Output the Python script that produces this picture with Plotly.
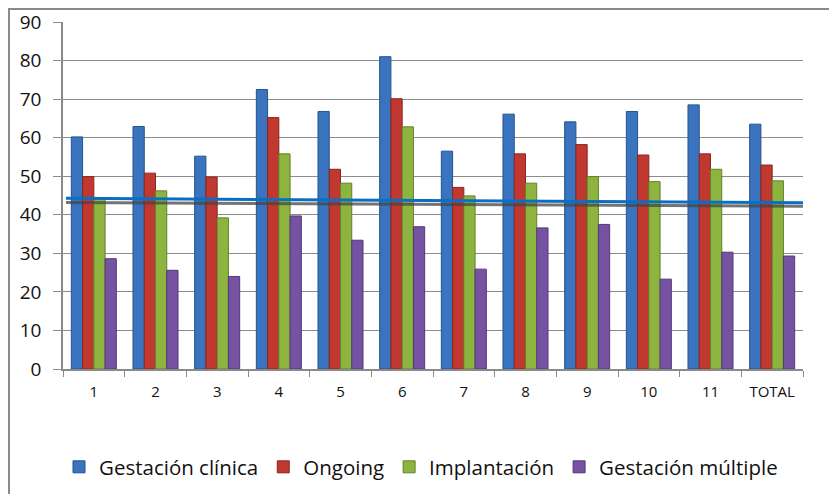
import plotly.graph_objects as go

categories = ["1", "2", "3", "4", "5", "6", "7", "8", "9", "10", "11", "TOTAL"]
gestacion_clinica = [60.2, 62.9, 55.2, 72.5, 66.8, 81.0, 56.5, 66.1, 64.1, 66.8, 68.5, 63.5]
ongoing = [49.9, 50.8, 49.8, 65.2, 51.8, 70.1, 47.1, 55.8, 58.2, 55.5, 55.8, 52.9]
implantacion = [44.1, 46.2, 39.2, 55.8, 48.2, 62.8, 44.9, 48.2, 49.9, 48.6, 51.8, 48.8]
gestacion_multiple = [28.6, 25.6, 24.0, 39.7, 33.4, 36.9, 25.9, 36.6, 37.5, 23.3, 30.3, 29.3]

trend_x = [-0.45, 11.5]
trend_blue = [44.3, 43.1]
trend_gray = [43.2, 42.2]

series_names = ["Gestación clínica", "Ongoing", "Implantación", "Gestación múltiple"]
series_values = [gestacion_clinica, ongoing, implantacion, gestacion_multiple]
fill_colors = ["#3A74BE", "#C0382F", "#8CB43E", "#7652A2"]
edge_colors = ["#24528C", "#8C2420", "#62822A", "#533878"]

FONT = "Open Sans, Noto Sans, sans-serif"

fig = go.Figure()
for name, vals, fc, ec in zip(series_names, series_values, fill_colors, edge_colors):
    fig.add_trace(go.Bar(
        x=categories, y=vals, name=name,
        marker=dict(color=fc, line=dict(color=ec, width=1)),
    ))

fig.add_trace(go.Scatter(
    x=trend_x, y=trend_gray, xaxis="x2", mode="lines",
    line=dict(color="rgba(70,70,70,0.75)", width=3), showlegend=False, hoverinfo="skip",
))
fig.add_trace(go.Scatter(
    x=trend_x, y=trend_blue, xaxis="x2", mode="lines",
    line=dict(color="#0A6FC2", width=3), showlegend=False, hoverinfo="skip",
))

# The page has an 8px body margin: figure origin is at page (8, 8).
OFF = 8
W, H = 837 - OFF, 494 - OFF
# plot area in page pixels: x 63..803, y 22..369
L, R, T, B = 63 - OFF, 837 - 803, 22 - OFF, 494 - 369
pw = W - L - R
ph = H - T - B

def px_x(p):
    return (p - OFF - L) / pw

def px_y(p):
    return 1 - (p - OFF - T) / ph

fig.add_shape(type="rect", xref="paper", yref="paper",
              x0=px_x(OFF + 1), x1=px_x(845), y0=px_y(505), y1=px_y(OFF + 1),
              line=dict(color="#8A8A8A", width=2), fillcolor="rgba(0,0,0,0)", layer="below")

fig.update_layout(
    width=W, height=H,
    margin=dict(l=L, r=R, t=T, b=B, autoexpand=False),
    paper_bgcolor="white", plot_bgcolor="white",
    barmode="group", bargap=0.27, bargroupgap=0,
    font=dict(family=FONT, color="#111111"),
    showlegend=True,
    legend=dict(orientation="h", x=px_x(421), xanchor="center", y=px_y(467), yanchor="middle",
                font=dict(size=20.5, family=FONT, color="#111111"),
                itemwidth=30, traceorder="normal", tracegroupgap=0),
    xaxis=dict(
        type="category", tickson="boundaries", ticks="outside", ticklen=6,
        tickcolor="#8A8A8A", showline=True, linecolor="#8A8A8A", linewidth=1.5,
        showgrid=False, tickfont=dict(size=15, family=FONT, color="#111111"),
        ticklabelstandoff=8, automargin=False,
    ),
    xaxis2=dict(overlaying="x", range=[-0.5, 11.5], visible=False),
    yaxis=dict(
        range=[0, 90], dtick=10, ticks="outside", ticklen=8, tickcolor="#8A8A8A",
        showline=True, linecolor="#8A8A8A", linewidth=1.5,
        showgrid=True, gridcolor="#8C8C8C", gridwidth=1, zeroline=False,
        tickfont=dict(size=19, family=FONT, color="#111111"), ticklabelstandoff=8,
        automargin=False,
    ),
)

fig.write_html("out.html")
